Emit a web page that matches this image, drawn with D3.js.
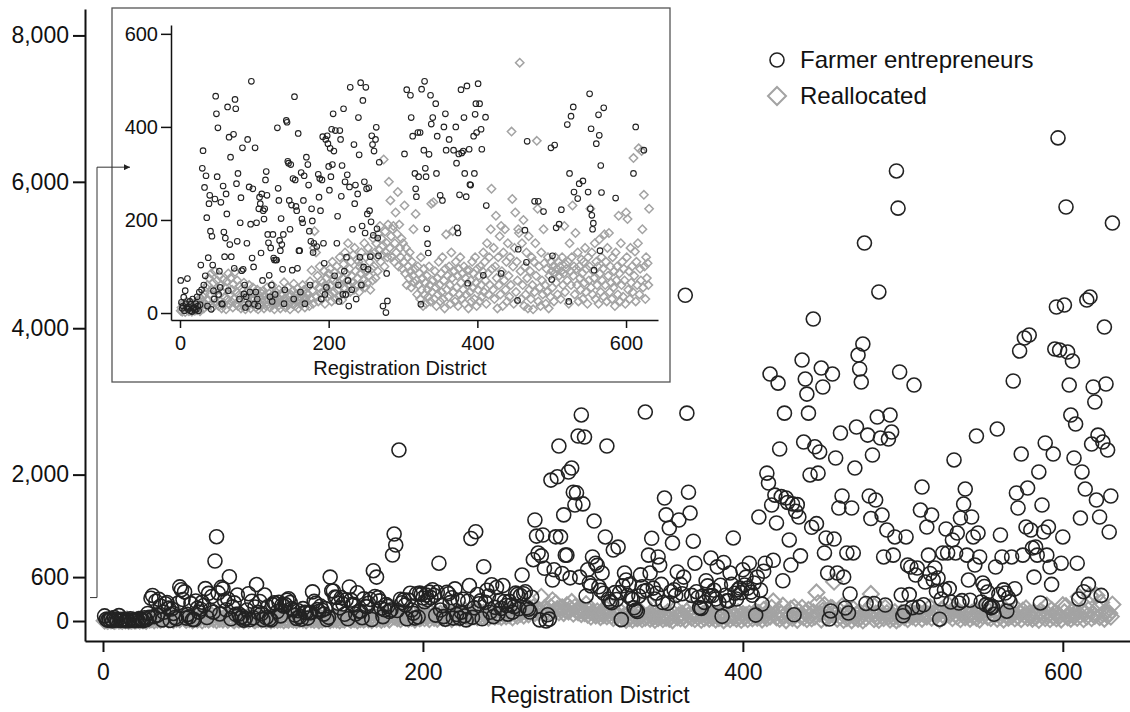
<!DOCTYPE html>
<html>
<head>
	<title>Farmer entrepreneurs and reallocated land by registration district</title>
	<script src="https://d3js.org/d3.v7.min.js"></script>
	<style>
		body { margin: 0; background: #fff; }
		text { font-family: "Liberation Sans", Arial, sans-serif; fill: #111; }
	</style>
</head>
<body>
	<div id="chart"></div>

	<script>
		// Farmer entrepreneurs per registration district (districts 1 .. 631)
		const farmers = [
			70, 23, 10, 15, 34, 5, 48, 20, 12, 74,
			8, 12, 25, 5, 19, 3, 30, 10, 12, 6,
			20, 8, 35, 15, 5, 45, 18, 103, 50, 311,
			349, 60, 270, 80, 295, 205, 15, 119, 235, 253,
			176, 8, 165, 103, 48, 30, 245, 466, 428, 293,
			398, 40, 90, 55, 238, 20, 19, 273, 174, 121,
			161, 256, 213, 443, 48, 378, 147, 335, 121, 820,
			1152, 384, 96, 459, 439, 278, 154, 300, 605, 30,
			194, 248, 91, 355, 94, 41, 60, 12, 35, 150,
			373, 20, 271, 45, 191, 498, 118, 267, 99, 19,
			355, 45, 194, 30, 15, 224, 249, 235, 129, 256,
			70, 220, 202, 224, 286, 304, 253, 169, 151, 81,
			35, 140, 60, 25, 169, 118, 114, 40, 114, 114,
			398, 268, 242, 156, 134, 203, 147, 94, 169, 20,
			50, 600, 414, 410, 326, 322, 242, 180, 319, 232,
			92, 289, 30, 465, 286, 229, 220, 96, 386, 134,
			134, 45, 302, 202, 194, 242, 295, 20, 687, 335,
			600, 319, 275, 176, 60, 154, 224, 198, 130, 150,
			901, 1188, 1038, 143, 2336, 298, 249, 289, 220, 30,
			286, 379, 150, 107, 40, 373, 55, 381, 364, 315,
			264, 354, 293, 395, 319, 428, 348, 80, 392, 790,
			150, 208, 60, 25, 392, 373, 251, 317, 40, 439,
			90, 282, 40, 120, 297, 70, 15, 271, 485, 1128,
			50, 180, 1220, 362, 235, 275, 30, 742, 256, 420,
			340, 120, 495, 60, 187, 457, 99, 282, 172, 485,
			267, 213, 94, 269, 220, 121, 196, 381, 362, 167,
			348, 628, 373, 399, 181, 161, 123, 324, 838, 1380,
			1160, 929, 15, 890, 1175, 720, 1, 85, 26, 1925,
			560, 700, 1150, 1970, 2390, 1150, 650, 1450, 900, 900,
			2035, 590, 2090, 1760, 1585, 1750, 2527, 600, 2815, 1600,
			2513, 342, 700, 520, 480, 875, 1366, 790, 760, 468,
			420, 655, 380, 1148, 2390, 300, 267, 250, 970, 388,
			293, 1010, 388, 19, 481, 655, 560, 350, 498, 311,
			293, 181, 149, 129, 341, 630, 468, 406, 2855, 420,
			900, 655, 1130, 450, 300, 380, 875, 765, 500, 253,
			1680, 1450, 242, 1270, 400, 1065, 428, 350, 670, 1380,
			500, 373, 600, 4450, 2840, 1760, 1475, 350, 1090, 790,
			400, 322, 183, 172, 342, 254, 550, 480, 344, 860,
			348, 420, 300, 740, 250, 488, 64, 800, 352, 276,
			275, 655, 500, 1135, 380, 300, 427, 450, 388, 700,
			493, 600, 450, 790, 395, 352, 520, 81, 600, 1420,
			421, 231, 680, 790, 2020, 1885, 3374, 1585, 830, 1720,
			1340, 3250, 2350, 1700, 550, 2840, 1680, 1620, 1107, 765,
			1600, 85, 1500, 1590, 1420, 890, 3565, 2445, 3306, 3100,
			2840, 1995, 1280, 4125, 2380, 1330, 2020, 2310, 3456, 3197,
			930, 1135, 655, 27, 137, 3374, 1120, 2227, 655, 1544,
			2568, 1708, 600, 178, 930, 109, 369, 1544, 930, 2090,
			2650, 3634, 3443, 3265, 3784, 5164, 240, 2540, 1708, 1400,
			2268, 240, 1653, 2787, 4495, 2500, 1448, 875, 218, 1243,
			2486, 2814, 2582, 900, 1148, 6148, 5640, 3402, 355, 72,
			123, 1148, 765, 361, 738, 183, 3224, 628, 724, 191,
			1516, 1830, 222, 533, 1284, 900, 650, 1448, 560, 724,
			405, 587, 25, 300, 930, 423, 1257, 930, 443, 260,
			1107, 2200, 930, 1202, 246, 1407, 278, 1598, 1803, 900,
			560, 284, 1421, 1148, 765, 2527, 1202, 875, 260, 519,
			471, 224, 396, 210, 180, 193, 92, 738, 2623, 364,
			1175, 875, 426, 382, 134, 317, 259, 875, 3279, 441,
			1749, 1544, 3689, 2281, 900, 3866, 1284, 1817, 3907, 1243,
			997, 600, 1011, 900, 2036, 247, 1585, 1216, 2432, 900,
			1284, 738, 500, 2281, 3716, 4290, 6600, 3702, 790, 1148,
			4317, 5656, 3675, 3224, 2814, 3552, 2227, 2691, 790, 300,
			1407, 2036, 400, 1803, 4385, 500, 4426, 2418, 3197, 2992,
			1653, 2540, 1421, 350, 2445, 4016, 3238, 2336, 1216, 1708,
			5437
		];

		// Reallocated per registration district (same districts)
		const reallocated = [
			5, 12, 3, 20, 8, 15, 2, 10, 25, 6,
			14, 4, 18, 9, 22, 3, 11, 7, 16, 5,
			12, 20, 6, 28, 10, 15, 4, 30, 18, 24,
			35, 10, 42, 20, 55, 15, 60, 28, 75, 40,
			18, 85, 50, 12, 65, 30, 90, 22, 48, 70,
			38, 15, 80, 25, 60, 10, 45, 72, 20, 35,
			55, 8, 68, 30, 85, 18, 40, 75, 25, 50,
			12, 62, 30, 88, 20, 45, 70, 15, 38, 58,
			25, 10, 52, 33, 18, 65, 40, 8, 28, 45,
			15, 35, 60, 22, 10, 42, 28, 55, 18, 30,
			40, 12, 25, 50, 8, 35, 20, 45, 15, 30,
			22, 48, 10, 38, 28, 15, 55, 30, 20, 42,
			12, 35, 25, 60, 18, 40, 8, 30, 45, 22,
			35, 15, 50, 28, 10, 42, 20, 38, 25, 66,
			30, 12, 45, 22, 55, 18, 35, 8, 40, 28,
			20, 48, 63, 30, 15, 40, 25, 52, 10, 35,
			28, 45, 18, 38, 60, 22, 50, 12, 33, 42,
			25, 55, 40, 15, 68, 30, 92, 48, 20, 140,
			176, 60, 130, 35, 80, 25, 55, 100, 42, 70,
			30, 65, 45, 90, 20, 58, 75, 35, 50, 85,
			40, 95, 60, 25, 110, 70, 45, 88, 30, 65,
			100, 50, 80, 35, 120, 60, 92, 28, 75, 105,
			55, 130, 40, 85, 70, 150, 60, 95, 45, 110,
			80, 65, 125, 50, 140, 90, 60, 115, 75, 110,
			45, 100, 85, 130, 60, 95, 70, 150, 55, 120,
			90, 65, 140, 80, 110, 50, 125, 95, 70, 160,
			100, 130, 75, 150, 120, 90, 170, 135, 187, 110,
			160, 125, 145, 330, 100, 175, 130, 150, 120, 190,
			282, 140, 242, 165, 120, 180, 187, 110, 150, 216,
			130, 170, 260, 100, 190, 140, 120, 160, 95, 150,
			110, 231, 85, 140, 60, 120, 100, 75, 130, 90,
			55, 110, 80, 180, 65, 95, 213, 70, 40, 100,
			60, 85, 30, 120, 50, 75, 15, 95, 40, 65,
			20, 80, 50, 35, 100, 60, 25, 235, 45, 70,
			238, 30, 90, 55, 15, 75, 40, 110, 60, 25,
			85, 45, 120, 30, 70, 10, 95, 169, 50, 80,
			35, 100, 60, 20, 130, 75, 176, 45, 90, 25,
			110, 55, 80, 15, 95, 40, 120, 65, 30, 85,
			50, 100, 20, 75, 40, 92, 60, 10, 92, 45,
			70, 25, 110, 55, 85, 30, 120, 65, 15, 95,
			50, 80, 25, 100, 60, 35, 90, 130, 45, 110,
			70, 20, 150, 85, 40, 120, 60, 180, 267, 95,
			50, 140, 30, 100, 209, 75, 10, 120, 60, 165,
			40, 187, 90, 15, 130, 70, 180, 50, 110, 25,
			150, 80, 35, 120, 60, 390, 245, 100, 20, 140,
			216, 45, 110, 70, 180, 172, 538, 90, 30, 150,
			60, 200, 15, 100, 40, 130, 75, 10, 165, 50,
			90, 30, 120, 60, 8, 110, 45, 150, 80, 370,
			224, 25, 100, 55, 15, 130, 70, 40, 180, 107,
			60, 20, 95, 45, 120, 10, 80, 35, 110, 90,
			55, 100, 25, 85, 120, 65, 95, 40, 110, 80,
			100, 30, 90, 120, 60, 85, 187, 45, 105, 95,
			70, 110, 20, 150, 90, 60, 120, 231, 80, 100,
			40, 172, 95, 60, 130, 25, 100, 75, 50, 115,
			85, 30, 110, 65, 140, 45, 95, 20, 120, 70,
			100, 224, 55, 130, 40, 90, 75, 150, 30, 110,
			60, 100, 20, 158, 85, 45, 120, 70, 95, 35,
			169, 60, 110, 25, 140, 80, 172, 45, 100, 65,
			30, 120, 55, 90, 15, 130, 70, 100, 40, 209,
			85, 25, 150, 60, 110, 35, 95, 70, 20, 216,
			120, 202, 50, 90, 30, 140, 65, 100, 45, 333,
			80, 132, 25, 110, 60, 150, 354, 40, 95, 70,
			348, 180, 55, 254, 100, 30, 120, 75, 107, 60,
			224
		];

		const seriesNames = ["Farmer entrepreneurs", "Reallocated"];
		const xTicks = [0, 200, 400, 600];
		const yTicks = [0, 600, 2000, 4000, 6000, 8000];
		const insetYTicks = [0, 200, 400, 600];
		const xTitle = "Registration District";
		const insetCutoff = 500; // farmer circles shown in the zoomed panel

		const rows = farmers.map((v, i) => ({ district: i + 1, farmers: v, reallocated: reallocated[i] }));

		const width = 1130, height = 712;
		const ink = "#222", grey = "#a3a3a3";

		const svg = d3.select("#chart")
			.append("svg")
			.attr("width", width)
			.attr("height", height);

		// Main panel scales
		const x = d3.scaleLinear().domain([-11.25, 642]).range([85, 1130]);
		const y = d3.scaleLinear().domain([-273, 8361]).range([641, 9]);

		const diamond = (cx, cy, r) => `M${cx},${cy - r}L${cx + r},${cy}L${cx},${cy + r}L${cx - r},${cy}Z`;

		function styleAxis(g, size) {
			g.selectAll("path.domain").attr("stroke", "#111").attr("stroke-width", 2);
			g.selectAll(".tick line").attr("stroke", "#111").attr("stroke-width", 2);
			g.selectAll(".tick text").attr("font-size", size).attr("fill", "#111")
				.attr("font-family", '"Liberation Sans", Arial, sans-serif');
		}

		// Main axes
		svg.append("g")
			.attr("transform", "translate(0,641)")
			.call(d3.axisBottom(x).tickValues(xTicks).tickSize(11).tickSizeOuter(0).tickPadding(12))
			.call(g => styleAxis(g, 23));
		svg.append("g")
			.attr("transform", "translate(85,0)")
			.call(d3.axisLeft(y).tickValues(yTicks).tickFormat(d3.format(",")).tickSize(12).tickSizeOuter(0).tickPadding(4))
			.call(g => styleAxis(g, 23));

		svg.append("text")
			.attr("x", 590).attr("y", 703)
			.attr("text-anchor", "middle")
			.attr("font-size", 23)
			.text(xTitle);

		// Main marks: diamonds under circles
		svg.append("g").selectAll("path")
			.data(rows)
			.enter()
			.append("path")
			.attr("d", d => diamond(x(d.district), y(d.reallocated), 8))
			.attr("fill", "none")
			.attr("stroke", grey)
			.attr("stroke-width", 2);
		svg.append("g").selectAll("circle")
			.data(rows)
			.enter()
			.append("circle")
			.attr("cx", d => x(d.district))
			.attr("cy", d => y(d.farmers))
			.attr("r", 7)
			.attr("fill", "none")
			.attr("stroke", ink)
			.attr("stroke-width", 1.6);

		// Inset panel
		const inset = svg.append("g");
		inset.append("rect")
			.attr("x", 112).attr("y", 8)
			.attr("width", 558).attr("height", 374)
			.attr("fill", "#fff")
			.attr("stroke", "#555")
			.attr("stroke-width", 1.3);

		const ix = d3.scaleLinear().domain([-12.1, 643]).range([171, 658]);
		const iy = d3.scaleLinear().domain([-15, 619]).range([320, 25]);

		inset.append("g")
			.attr("transform", "translate(0,320)")
			.call(d3.axisBottom(ix).tickValues(xTicks).tickSize(8).tickSizeOuter(0).tickPadding(8))
			.call(g => styleAxis(g, 20));
		inset.append("g")
			.attr("transform", "translate(171,0)")
			.call(d3.axisLeft(iy).tickValues(insetYTicks).tickSize(10).tickSizeOuter(0).tickPadding(3))
			.call(g => styleAxis(g, 20));
		inset.selectAll("path.domain, .tick line").attr("stroke-width", 1.5);

		inset.append("text")
			.attr("x", 400).attr("y", 375)
			.attr("text-anchor", "middle")
			.attr("font-size", 20)
			.text(xTitle);

		inset.append("g").selectAll("path")
			.data(rows.filter(d => d.reallocated <= 600))
			.enter()
			.append("path")
			.attr("d", d => diamond(ix(d.district), iy(d.reallocated), 4.2))
			.attr("fill", "none")
			.attr("stroke", grey)
			.attr("stroke-width", 1.5);
		inset.append("g").selectAll("circle")
			.data(rows.filter(d => d.farmers < insetCutoff))
			.enter()
			.append("circle")
			.attr("cx", d => ix(d.district))
			.attr("cy", d => iy(d.farmers))
			.attr("r", 2.8)
			.attr("fill", "none")
			.attr("stroke", ink)
			.attr("stroke-width", 1.1);

		// Arrow from the 0-600 band up into the inset
		svg.append("defs").append("marker")
			.attr("id", "head")
			.attr("viewBox", "0 0 10 10")
			.attr("refX", 10).attr("refY", 5)
			.attr("markerWidth", 11).attr("markerHeight", 6)
			.attr("markerUnits", "userSpaceOnUse")
			.attr("orient", "auto")
			.append("path")
			.attr("d", "M0,0L10,5L0,10Z")
			.attr("fill", "#222");
		const yLow = y(320), yHigh = y(6200);
		svg.append("path")
			.attr("d", `M90,${yLow}H97V${yHigh}H130`)
			.attr("fill", "none")
			.attr("stroke", "#333")
			.attr("stroke-width", 1)
			.attr("marker-end", "url(#head)");

		// Legend
		const legend = svg.append("g");
		legend.append("circle")
			.attr("cx", 777).attr("cy", 60).attr("r", 7)
			.attr("fill", "none").attr("stroke", ink).attr("stroke-width", 1.6);
		legend.append("path")
			.attr("d", diamond(777, 96, 9))
			.attr("fill", "none").attr("stroke", grey).attr("stroke-width", 2);
		legend.selectAll("text")
			.data(seriesNames)
			.enter()
			.append("text")
			.attr("x", 800)
			.attr("y", (d, i) => 60 + i * 36)
			.attr("dy", "0.35em")
			.attr("font-size", 24)
			.text(d => d);
	</script>
</body>
</html>
